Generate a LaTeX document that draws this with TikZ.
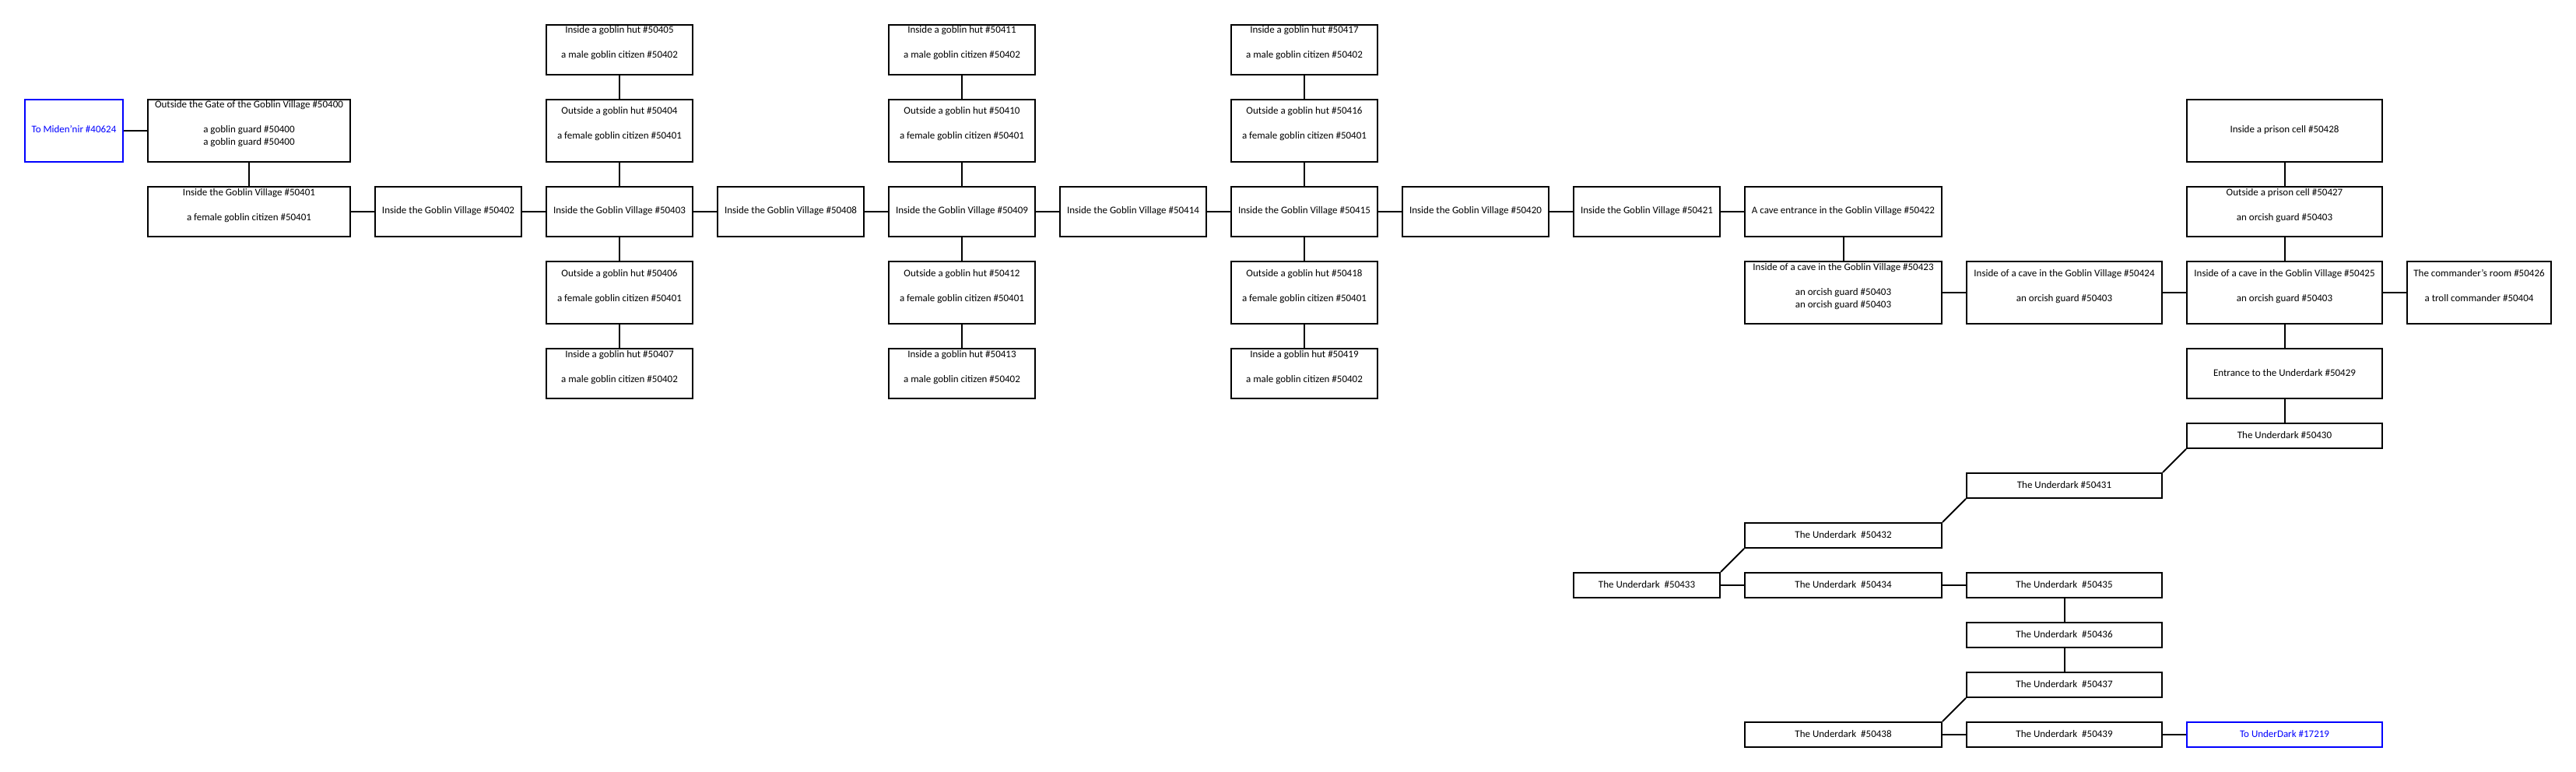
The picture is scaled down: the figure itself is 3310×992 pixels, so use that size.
\documentclass[tikz,border=0pt]{standalone}
\usepackage{fontspec}
\setmainfont{Carlito}
\definecolor{xblue}{RGB}{0,0,255}
\newcommand\roomfont{\fontsize{13}{16}\selectfont}
\newcommand\Ln[1]{\rule[-5pt]{0pt}{16pt}#1}
\newcommand\One[1]{\Ln{#1}}
\newcommand\Two[2]{\Ln{#1}\\\Ln{}\\\Ln{#2}\\\Ln{}}
\newcommand\Three[3]{\Ln{#1}\\\Ln{}\\\Ln{#2}\\\Ln{#3}\\\Ln{}}
\newcommand\RoomBox[7][room]{\node[#1,minimum width=#5pt,minimum height=#6pt] (#2) at (#3,#4) {#7};}
\tikzset{
  room/.style={draw=black, line width=2pt, inner sep=0pt, align=center, font=\roomfont, text=black},
  exitroom/.style={room, draw=xblue, text=xblue},
  link/.style={line width=2pt, draw=black}
}
\begin{document}
\begin{tikzpicture}[x=1pt,y=-1pt]
\useasboundingbox[fill=white] (0,0) rectangle (3310,992);
% row B / C left part
\RoomBox[exitroom]{m40624}{95}{168}{126}{80}{\One{To Miden'nir \#40624}}
\RoomBox{n50400}{320}{168}{260}{80}{\Three{Outside the Gate of the Goblin Village \#50400}{a goblin guard \#50400}{a goblin guard \#50400}}
\RoomBox{n50401}{320}{272}{260}{64}{\Two{Inside the Goblin Village \#50401}{a female goblin citizen \#50401}}
\RoomBox{n50402}{576}{272}{188}{64}{\One{Inside the Goblin Village \#50402}}
% column 50403
\RoomBox{n50405}{796}{64}{188}{64}{\Two{Inside a goblin hut \#50405}{a male goblin citizen \#50402}}
\RoomBox{n50404}{796}{168}{188}{80}{\Two{Outside a goblin hut \#50404}{a female goblin citizen \#50401}}
\RoomBox{n50403}{796}{272}{188}{64}{\One{Inside the Goblin Village \#50403}}
\RoomBox{n50406}{796}{376}{188}{80}{\Two{Outside a goblin hut \#50406}{a female goblin citizen \#50401}}
\RoomBox{n50407}{796}{480}{188}{64}{\Two{Inside a goblin hut \#50407}{a male goblin citizen \#50402}}
\RoomBox{n50408}{1016}{272}{188}{64}{\One{Inside the Goblin Village \#50408}}
% column 50409
\RoomBox{n50411}{1236}{64}{188}{64}{\Two{Inside a goblin hut \#50411}{a male goblin citizen \#50402}}
\RoomBox{n50410}{1236}{168}{188}{80}{\Two{Outside a goblin hut \#50410}{a female goblin citizen \#50401}}
\RoomBox{n50409}{1236}{272}{188}{64}{\One{Inside the Goblin Village \#50409}}
\RoomBox{n50412}{1236}{376}{188}{80}{\Two{Outside a goblin hut \#50412}{a female goblin citizen \#50401}}
\RoomBox{n50413}{1236}{480}{188}{64}{\Two{Inside a goblin hut \#50413}{a male goblin citizen \#50402}}
\RoomBox{n50414}{1456}{272}{188}{64}{\One{Inside the Goblin Village \#50414}}
% column 50415
\RoomBox{n50417}{1676}{64}{188}{64}{\Two{Inside a goblin hut \#50417}{a male goblin citizen \#50402}}
\RoomBox{n50416}{1676}{168}{188}{80}{\Two{Outside a goblin hut \#50416}{a female goblin citizen \#50401}}
\RoomBox{n50415}{1676}{272}{188}{64}{\One{Inside the Goblin Village \#50415}}
\RoomBox{n50418}{1676}{376}{188}{80}{\Two{Outside a goblin hut \#50418}{a female goblin citizen \#50401}}
\RoomBox{n50419}{1676}{480}{188}{64}{\Two{Inside a goblin hut \#50419}{a male goblin citizen \#50402}}
\RoomBox{n50420}{1896}{272}{188}{64}{\One{Inside the Goblin Village \#50420}}
\RoomBox{n50421}{2116}{272}{188}{64}{\One{Inside the Goblin Village \#50421}}
% caves
\RoomBox{n50422}{2368.5}{272}{253}{64}{\One{A cave entrance in the Goblin Village \#50422}}
\RoomBox{n50423}{2368.5}{376}{253}{80}{\Three{Inside of a cave in the Goblin Village \#50423}{an orcish guard \#50403}{an orcish guard \#50403}}
\RoomBox{n50424}{2652.5}{376}{251}{80}{\Two{Inside of a cave in the Goblin Village \#50424}{an orcish guard \#50403}}
\RoomBox{n50425}{2935.5}{376}{251}{80}{\Two{Inside of a cave in the Goblin Village \#50425}{an orcish guard \#50403}}
\RoomBox{n50426}{3185.5}{376}{185}{80}{\Two{The commander's room \#50426}{a troll commander \#50404}}
\RoomBox{n50427}{2935.5}{272}{251}{64}{\Two{Outside a prison cell \#50427}{an orcish guard \#50403}}
\RoomBox{n50428}{2935.5}{168}{251}{80}{\One{Inside a prison cell \#50428}}
\RoomBox{n50429}{2935.5}{480}{251}{64}{\One{Entrance to the Underdark \#50429}}
% underdark
\RoomBox{n50430}{2935.5}{560}{251}{32}{\One{The Underdark \#50430}}
\RoomBox{n50431}{2652.5}{624}{251}{32}{\One{The Underdark \#50431}}
\RoomBox{n50432}{2368.5}{688}{253}{32}{\One{The Underdark~~\#50432}}
\RoomBox{n50433}{2116}{752}{188}{32}{\One{The Underdark~~\#50433}}
\RoomBox{n50434}{2368.5}{752}{253}{32}{\One{The Underdark~~\#50434}}
\RoomBox{n50435}{2652.5}{752}{251}{32}{\One{The Underdark~~\#50435}}
\RoomBox{n50436}{2652.5}{816}{251}{32}{\One{The Underdark~~\#50436}}
\RoomBox{n50437}{2652.5}{880}{251}{32}{\One{The Underdark~~\#50437}}
\RoomBox{n50438}{2368.5}{944}{253}{32}{\One{The Underdark~~\#50438}}
\RoomBox{n50439}{2652.5}{944}{251}{32}{\One{The Underdark~~\#50439}}
\RoomBox[exitroom]{u17219}{2935.5}{944}{251}{32}{\One{To UnderDark \#17219}}
% connectors
\draw[link] (m40624) -- (n50400);
\draw[link] (n50400) -- (n50401);
\draw[link] (n50401) -- (n50402);
\draw[link] (n50402) -- (n50403);
\draw[link] (n50403) -- (n50404);
\draw[link] (n50404) -- (n50405);
\draw[link] (n50403) -- (n50406);
\draw[link] (n50406) -- (n50407);
\draw[link] (n50403) -- (n50408);
\draw[link] (n50408) -- (n50409);
\draw[link] (n50409) -- (n50410);
\draw[link] (n50410) -- (n50411);
\draw[link] (n50409) -- (n50412);
\draw[link] (n50412) -- (n50413);
\draw[link] (n50409) -- (n50414);
\draw[link] (n50414) -- (n50415);
\draw[link] (n50415) -- (n50416);
\draw[link] (n50416) -- (n50417);
\draw[link] (n50415) -- (n50418);
\draw[link] (n50418) -- (n50419);
\draw[link] (n50415) -- (n50420);
\draw[link] (n50420) -- (n50421);
\draw[link] (n50421) -- (n50422);
\draw[link] (n50422) -- (n50423);
\draw[link] (n50423) -- (n50424);
\draw[link] (n50424) -- (n50425);
\draw[link] (n50425) -- (n50426);
\draw[link] (n50425) -- (n50427);
\draw[link] (n50427) -- (n50428);
\draw[link] (n50425) -- (n50429);
\draw[link] (n50429) -- (n50430);
\draw[link] (n50430.south west) -- (n50431.north east);
\draw[link] (n50431.south west) -- (n50432.north east);
\draw[link] (n50432.south west) -- (n50433.north east);
\draw[link] (n50433) -- (n50434);
\draw[link] (n50434) -- (n50435);
\draw[link] (n50435) -- (n50436);
\draw[link] (n50436) -- (n50437);
\draw[link] (n50437.south west) -- (n50438.north east);
\draw[link] (n50438) -- (n50439);
\draw[link] (n50439) -- (u17219);
\end{tikzpicture}
\end{document}
